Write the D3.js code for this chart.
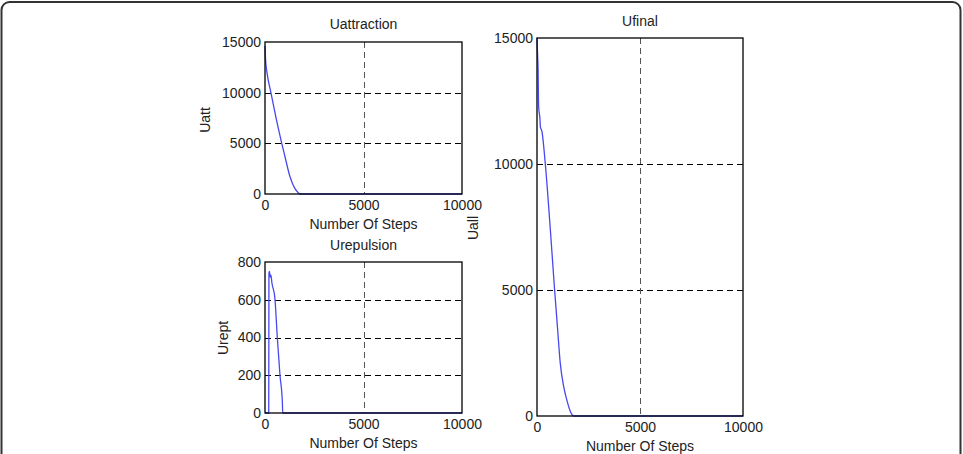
<!DOCTYPE html>
<html>
<head>
<meta charset="utf-8">
<script src="https://cdn.jsdelivr.net/npm/d3@7"></script>
<style>
  body { margin: 0; background: #fff; }
  text { font-family: "Liberation Sans", Arial, sans-serif; fill: #222; }
</style>
</head>
<body>
<div id="chart"></div>
<script>
// steps / values
const attSteps = [0, 30, 100, 300, 550, 850, 1000, 1270, 1500, 1690, 1800, 10000];
const attValues = [14600, 13200, 12000, 10000, 7600, 5000, 3800, 1700, 600, 130, 0, 0];

const repSteps = [0, 190, 200, 230, 260, 300, 350, 500, 625, 760, 880, 900, 10000];
const repValues = [0, 0, 740, 750, 720, 730, 690, 610, 400, 200, 60, 0, 0];

const allSteps = [0, 30, 50, 80, 150, 160, 240, 400, 650, 855, 1000, 1130, 1300, 1450, 1600, 1780, 10000];
const allValues = [15000, 14300, 13870, 12280, 11700, 11490, 11290, 10030, 7370, 5000, 3450, 2090, 1150, 630, 220, 0, 0];

const xTicks = [0, 5000, 10000];
const attTicks = [0, 5000, 10000, 15000];
const repTicks = [0, 200, 400, 600, 800];
const allTicks = [0, 5000, 10000, 15000];

const svg = d3.select("#chart").append("svg")
  .attr("width", 963)
  .attr("height", 454);

// outer frame
svg.append("rect")
  .attr("x", 1.5).attr("y", 2)
  .attr("width", 959).attr("height", 470)
  .attr("rx", 8)
  .attr("fill", "none")
  .attr("stroke", "#333")
  .attr("stroke-width", 2);

function panel(opt) {
  const { left, right, top, bottom } = opt;
  const x = d3.scaleLinear().domain([0, 10000]).range([left, right]);
  const y = d3.scaleLinear().domain(opt.yDomain).range([bottom, top]);
  const g = svg.append("g");

  // dashed grid
  g.selectAll(".hgrid")
    .data(opt.yTicks.filter(t => t !== opt.yDomain[0] && t !== opt.yDomain[1]))
    .enter().append("line")
    .attr("x1", left).attr("x2", right)
    .attr("y1", d => Math.round(y(d)) + 0.5).attr("y2", d => Math.round(y(d)) + 0.5)
    .attr("stroke", "#000")
    .attr("stroke-dasharray", "6,4");

  g.append("line")
    .attr("x1", Math.round(x(5000)) + 0.5).attr("x2", Math.round(x(5000)) + 0.5)
    .attr("y1", top).attr("y2", bottom)
    .attr("stroke", "#555")
    .attr("stroke-dasharray", "6,4");

  // data line
  const line = d3.line().x(d => x(d[0])).y(d => y(d[1])).curve(d3.curveMonotoneX);
  g.append("path")
    .datum(opt.steps.map((s, i) => [s, opt.values[i]]))
    .attr("d", line)
    .attr("fill", "none")
    .attr("stroke", "#4848f0")
    .attr("stroke-width", 1.3);

  // box
  g.append("rect")
    .attr("x", left).attr("y", top)
    .attr("width", right - left).attr("height", bottom - top)
    .attr("fill", "none")
    .attr("stroke", "#000")
    .attr("stroke-width", 1.3);

  // axes (labels only, like the figure)
  const yAxis = g.append("g")
    .attr("transform", `translate(${left},0)`)
    .call(d3.axisLeft(y).tickValues(opt.yTicks).tickSize(0).tickPadding(4).tickFormat(d3.format("d")));
  const xAxis = g.append("g")
    .attr("transform", `translate(0,${bottom})`)
    .call(d3.axisBottom(x).tickValues(xTicks).tickSize(0).tickPadding(6).tickFormat(d3.format("d")));
  [yAxis, xAxis].forEach(a => {
    a.select(".domain").remove();
    a.selectAll("text")
      .attr("font-size", 14)
      .attr("font-family", "'Liberation Sans', Arial, sans-serif")
      .attr("fill", "#222");
  });

  g.append("text")
    .attr("x", (left + right) / 2)
    .attr("y", opt.titleY)
    .attr("text-anchor", "middle")
    .attr("font-size", 14)
    .text(opt.title);

  g.append("text")
    .attr("x", (left + right) / 2)
    .attr("y", bottom + 35)
    .attr("text-anchor", "middle")
    .attr("font-size", 14)
    .text("Number Of Steps");

  g.append("text")
    .attr("transform", `translate(${opt.yLabelX},${opt.yLabelY}) rotate(-90)`)
    .attr("text-anchor", "middle")
    .attr("font-size", 14)
    .text(opt.yLabel);
}

panel({
  left: 265, right: 462, top: 42, bottom: 194,
  yDomain: [0, 15000], yTicks: attTicks,
  steps: attSteps, values: attValues,
  title: "Uattraction", titleY: 29,
  yLabel: "Uatt", yLabelX: 210, yLabelY: 120
});

panel({
  left: 265, right: 462, top: 262, bottom: 413,
  yDomain: [0, 800], yTicks: repTicks,
  steps: repSteps, values: repValues,
  title: "Urepulsion", titleY: 250,
  yLabel: "Urept", yLabelX: 228, yLabelY: 338
});

panel({
  left: 537, right: 743, top: 38, bottom: 416,
  yDomain: [0, 15000], yTicks: allTicks,
  steps: allSteps, values: allValues,
  title: "Ufinal", titleY: 26,
  yLabel: "Uall", yLabelX: 478, yLabelY: 228
});
</script>
</body>
</html>
